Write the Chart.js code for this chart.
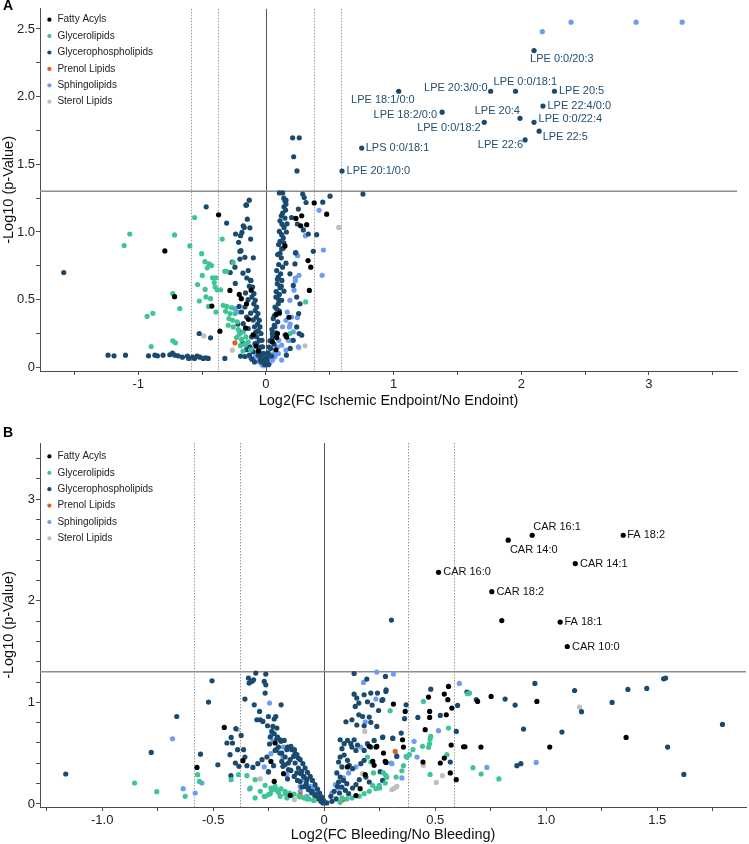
<!DOCTYPE html>
<html><head><meta charset="utf-8">
<script src="https://cdn.jsdelivr.net/npm/chart.js@4.4.1/dist/chart.umd.min.js"></script>
<style>
html,body{margin:0;padding:0;background:#fff;}
#wrap{position:relative;width:749px;height:844px;overflow:hidden;font-family:"Liberation Sans",Arial,Helvetica,sans-serif;}
canvas{position:absolute;left:0;}
#ca{top:0;} #cb{top:430px;}
.tag{position:absolute;left:3px;font-weight:bold;font-size:14px;line-height:14px;color:#000;}
</style></head>
<body><div id="wrap">
<canvas id="ca" width="749" height="410"></canvas>
<canvas id="cb" width="749" height="414"></canvas>
<div class="tag" style="top:-2px">A</div>
<div class="tag" style="top:425px">B</div>
</div>
<script>
// ---------- categories, cut-offs, tick labels ----------
const CATEGORIES = ['Fatty Acyls','Glycerolipids','Glycerophospholipids','Prenol Lipids','Sphingolipids','Sterol Lipids'];
const FC_CUTS = [-0.585, -0.379, 0.379, 0.585];
const P_CUT = 1.301;
const A_X_TICKS = [-1, 0, 1, 2, 3];
const A_Y_TICKS = [0, 0.5, 1, 1.5, 2, 2.5];
const B_X_TICKS = [-1, -0.5, 0, 0.5, 1, 1.5];
const B_Y_TICKS = [0, 1, 2, 3];

// ---------- Panel A data [log2FC, -log10 p] ----------
const A_FA = [[-0.792,0.86],[-0.716,0.522],[-0.371,1.127],[-0.424,0.453],[-0.361,0.267],[-0.282,0.568],[-0.209,0.539],[-0.193,0.507],[-0.152,0.47],[-0.116,0.57],[-0.137,0.355],[-0.16,0.29],[-0.078,0.157],[-0.1,0.24],[-0.06,0.12],[0.476,1.132],[0.378,1.215],[0.28,1.12],[0.235,1.10],[0.319,1.054],[0.272,1.046],[0.33,0.789],[0.351,0.74],[0.34,0.568],[0.149,0.897],[0.105,0.40],[0.08,0.39],[0.09,0.25],[0.155,0.24],[0.18,0.37],[0.084,0.22],[0.162,0.225],[0.078,0.13],[0.05,0.19]];
const A_GL = [[-1.067,0.985],[-1.111,0.90],[-0.716,0.978],[-0.596,0.897],[-0.559,1.107],[-0.931,0.377],[-0.886,0.399],[-0.73,0.544],[-0.675,0.434],[-0.899,0.154],[-0.73,0.196],[-0.709,0.181],[-0.504,0.84],[-0.535,0.612],[-0.478,0.781],[-0.445,0.764],[-0.426,0.752],[-0.46,0.735],[-0.499,0.679],[-0.418,0.662],[-0.392,0.662],[-0.405,0.627],[-0.476,0.576],[-0.398,0.593],[-0.382,0.573],[-0.355,0.573],[-0.522,0.49],[-0.434,0.507],[-0.392,0.409],[-0.47,0.52],[-0.45,0.45],[-0.322,0.71],[-0.308,0.71],[-0.257,0.774],[-0.343,0.948],[-0.335,0.458],[-0.308,0.45],[-0.269,0.441],[-0.316,0.414],[-0.282,0.397],[-0.243,0.397],[-0.261,0.348],[-0.225,0.336],[-0.295,0.311],[-0.256,0.299],[-0.217,0.279],[-0.178,0.262],[-0.157,0.225],[-0.191,0.206],[-0.139,0.188],[-0.165,0.171],[-0.209,0.245],[-0.2,0.16],[-0.18,0.12],[-0.12,0.13],[-0.23,0.22],[-0.29,0.36],[0.311,0.483],[0.188,0.25]];
const A_GP = [[-1.584,0.70],[-1.237,0.09],[-1.19,0.085],[-1.10,0.09],[-0.92,0.085],[-0.87,0.09],[-0.85,0.085],[-0.806,0.09],[-0.753,0.093],[-0.732,0.105],[-0.714,0.09],[-0.688,0.085],[-0.654,0.075],[-0.615,0.083],[-0.605,0.066],[-0.575,0.075],[-0.56,0.066],[-0.539,0.083],[-0.518,0.075],[-0.492,0.066],[-0.471,0.07],[-0.452,0.066],
[-0.468,1.186],[-0.523,0.25],[-0.434,0.218],[-0.308,1.066],[-0.238,0.985],[-0.188,0.997],[-0.170,1.034],[-0.152,1.20],[-0.131,1.235],[-0.157,1.198],[-0.146,1.095],[-0.126,1.031],[-0.214,0.924],[-0.204,0.857],[-0.264,0.777],[-0.243,0.74],[-0.165,0.813],[-0.18,0.696],[-0.099,0.809],[-0.12,0.642],[-0.178,1.046],[-0.199,0.973],[-0.12,0.948],[-0.196,0.862],[-0.204,0.80],[-0.322,0.066],[-0.199,0.083],[-0.165,0.08],
[-0.139,0.715],[-0.118,0.642],[-0.105,0.593],[-0.094,0.544],[-0.084,0.495],[-0.073,0.446],[-0.063,0.397],[-0.052,0.348],[-0.047,0.299],[-0.039,0.25],[-0.031,0.20],[-0.026,0.152],[-0.018,0.103],[-0.010,0.066],[-0.165,0.446],[-0.191,0.409],[-0.152,0.372],[-0.178,0.323],[-0.139,0.287],[-0.112,0.225],[-0.086,0.176],[-0.125,0.152],[-0.10,0.115],[-0.06,0.09],[-0.047,0.054],[-0.073,0.225],
[-0.13,0.6],[-0.11,0.52],[-0.095,0.47],[-0.085,0.42],[-0.075,0.37],[-0.065,0.32],[-0.06,0.27],[-0.05,0.2],[-0.04,0.15],[-0.03,0.1],[-0.02,0.05],[-0.01,0.02],[-0.12,0.4],[-0.1,0.35],[-0.09,0.3],[-0.08,0.26],[-0.07,0.18],[-0.055,0.13],[-0.045,0.08],[-0.035,0.04],[-0.22,0.32],[-0.2,0.26],[-0.18,0.18],[-0.15,0.13],[-0.13,0.09],[-0.11,0.06],[-0.09,0.04],[-0.16,0.55],[-0.14,0.5],[-0.21,0.45],[-0.24,0.62],[-0.28,0.7],[-0.15,0.66],
[0.105,1.289],[0.131,1.289],[0.288,1.28],[0.502,1.265],[0.445,1.22],[0.397,0.98],[0.371,0.857],[0.157,0.77],[0.231,0.845],[0.26,0.25],
[0.149,1.23],[0.157,1.206],[0.141,1.186],[0.154,1.162],[0.131,1.14],[0.12,1.12],[0.149,1.103],[0.11,1.083],[0.125,1.059],[0.141,1.034],[0.105,1.004],[0.123,0.98],[0.136,0.956],[0.11,0.931],[0.099,0.907],[0.123,0.875],[0.11,0.843],[0.092,0.833],[0.12,0.809],[0.084,0.715],[0.115,0.691],[0.097,0.666],[0.125,0.642],[0.089,0.617],[0.11,0.588],[0.141,0.563],[0.105,0.539],[0.078,0.519],[0.123,0.495],[0.097,0.47],[0.071,0.446],[0.105,0.416],[0.078,0.392],[0.057,0.36],[0.092,0.336],[0.065,0.311],[0.047,0.279],[0.078,0.254],[0.052,0.225],[0.031,0.196],[0.063,0.171],[0.037,0.14],[0.018,0.107],[0.044,0.083],[0.01,0.054],
[0.1,0.76],[0.13,0.74],[0.09,0.65],[0.12,0.6],[0.08,0.56],[0.1,0.5],[0.085,0.43],[0.065,0.38],[0.07,0.3],[0.05,0.25],[0.04,0.2],[0.025,0.15],[0.015,0.08],[0.005,0.03],[0.02,0.02],[0.135,0.88],[0.14,0.92],[0.16,1.0],[0.165,1.06],[0.14,1.25],
[0.314,1.218],[0.254,1.169],[0.201,1.107],[0.246,1.059],[0.293,1.015],[0.332,0.985],[0.227,0.764],[0.188,0.691],[0.214,0.605],[0.241,0.519],[0.267,0.47],[0.256,0.397],[0.241,0.299],[0.28,0.238],[0.214,0.20],[0.19,0.14],[0.16,0.09],
[0.209,1.696],[0.261,1.696],[0.217,1.556],[0.243,1.451],[0.157,1.235],[0.30,1.254],[0.76,1.28]];
const A_PR = [[-0.243,0.181]];
const A_SP = [[2.165,2.48],[2.39,2.55],[2.90,2.55],[3.26,2.55],[0.309,0.973],[0.45,0.867],[0.44,0.68],[0.416,1.16],[0.194,0.2],[0.248,0.825],[0.259,0.68],[0.23,0.64],[0.22,0.57],[0.188,0.495],[0.167,0.409],[0.201,0.372],[0.157,0.348],[0.183,0.299],[0.214,0.262],[0.149,0.238],[0.175,0.20],[0.123,0.164],[0.157,0.127],[0.097,0.103],[0.071,0.078],[0.052,0.054],[0.123,0.054],[0.235,0.85],[0.246,0.368],[0.19,0.32],[0.254,0.152],[0.23,0.66],[-0.11,0.13],[-0.086,0.074],[-0.125,0.074],[-0.152,0.152],[-0.243,0.434],[-0.217,0.409],[-0.05,0.04],[-0.07,0.1],[-0.03,0.02],[0.03,0.03],[0.09,0.15],[0.1,0.2],[0.13,0.3],[0.06,0.1]];
const A_ST = [[-0.487,0.232],[-0.264,0.127],[0.259,0.144],[0.306,0.159],[0.57,1.034],[-0.02,0.01]];
// labelled glycerophospholipids (panel A)
const A_labelNames = ['LPE 0:0/20:3','LPE 18:1/0:0','LPE 20:3/0:0','LPE 0:0/18:1','LPE 20:5','LPE 18:2/0:0','LPE 22:4/0:0','LPE 20:4','LPE 0:0/18:2','LPE 0:0/22:4','LPE 22:5','LPE 22:6','LPS 0:0/18:1','LPE 20:1/0:0'];
const A_labelX = [2.10,1.04,1.76,1.955,2.26,1.38,2.17,1.99,1.71,2.10,2.14,2.03,0.75,0.596];
const A_labelY = [2.34,2.04,2.04,2.04,2.04,1.885,1.93,1.84,1.81,1.81,1.745,1.68,1.62,1.45];

// ---------- Panel B data ----------
const B_FA = [[0.80,1.805],[-0.573,0.36],[-0.45,0.753],[-0.366,0.426],[-0.221,0.60],[-0.24,0.419],[-0.183,0.298],[-0.225,0.222],[-0.153,0.085],
[0.312,0.983],[0.203,0.567],[0.237,0.567],[0.267,0.501],[0.225,0.38],[0.105,0.364],[0.143,0.082],[0.162,0.15],[0.185,0.288],[0.275,0.419],[0.365,0.911],[0.47,1.052],[0.475,0.911],[0.475,0.852],[0.455,0.731],[0.541,1.082],[0.56,1.157],[0.557,1.026],[0.55,0.878],[0.575,0.944],[0.691,1.009],[0.752,1.058],[0.958,1.009],[1.36,0.655],[1.016,0.56],[0.706,0.56],[0.628,0.563],[0.634,0.563],[0.595,0.239],[0.568,0.305],[0.572,0.58],[0.523,0.403],[0.541,0.452],[0.445,0.413],[0.357,0.56],[0.353,0.632],[0.279,0.409],[0.234,0.56],[0.219,0.419]];
const B_GL = [[-0.854,0.206],[-0.754,0.121],[-0.626,0.075],[-0.57,0.288],[-0.562,0.222],[-0.386,0.288],[-0.348,0.278],[-0.419,0.239],[-0.311,0.239],[-0.266,0.183],[-0.24,0.157],[-0.216,0.141],[-0.195,0.15],[-0.176,0.124],[-0.156,0.108],[-0.135,0.098],[-0.113,0.075],[-0.09,0.059],[-0.068,0.049],[-0.045,0.035],[-0.311,0.059],[-0.27,0.075],[-0.243,0.101],[-0.288,0.124],[-0.333,0.157],[-0.236,0.134],[-0.206,0.114],[-0.176,0.101],[-0.146,0.082],[-0.108,0.069],[-0.078,0.049],[-0.048,0.035],[-0.168,0.059],[-0.198,0.075],[-0.251,0.091],[-0.221,0.173],
[0.297,0.917],[0.195,0.462],[0.21,0.413],[0.218,0.183],[0.233,0.15],[0.248,0.183],[0.278,0.278],[0.222,0.305],[0.203,0.124],[0.18,0.101],[0.158,0.075],[0.08,0.059],[0.072,0.016],[0.102,0.049],[0.125,0.059],[0.447,1.009],[0.56,0.747],[0.655,1.091],[0.646,1.085],[0.787,0.246],[0.707,0.295],[0.67,0.357],[0.553,0.485],[0.477,0.291],[0.48,0.665],[0.477,0.639],[0.47,0.557],[0.475,0.593],[0.443,0.567],[0.40,0.534],[0.384,0.485],[0.373,0.459],[0.282,0.262],[0.267,0.305],[0.275,0.206],[0.25,0.157],[0.324,0.265],[0.357,0.377],[0.35,0.327]];
const B_GP = [[-1.164,0.295],[-0.779,0.507],[-0.664,0.861],[-0.557,0.49],[-0.521,1.003],[-0.505,1.212],[-0.479,0.386],[-0.419,0.655],[-0.438,0.60],[-0.413,0.60],[-0.424,0.485],[-0.42,0.278],[-0.39,0.534],[-0.40,0.403],[-0.374,0.675],[-0.363,0.534],[-0.357,0.462],[-0.384,0.37],[-0.348,0.377],[-0.398,0.741],
[-0.341,1.239],[-0.326,1.206],[-0.318,1.222],[-0.338,1.19],[-0.308,1.288],[-0.27,1.206],[-0.263,1.173],[-0.266,1.091],[-0.263,1.278],[-0.357,1.032],[-0.315,0.976],[-0.194,0.976],[-0.291,0.911],[-0.276,0.812],[-0.288,0.829],[-0.303,0.829],[-0.251,0.861],[-0.225,0.836],[-0.218,0.861],[-0.255,0.77],[-0.231,0.763],[-0.213,0.747],
[-0.236,0.714],[-0.225,0.691],[-0.243,0.659],[-0.213,0.642],[-0.246,0.59],[-0.195,0.616],[-0.18,0.625],[-0.206,0.56],[-0.221,0.527],[-0.258,0.462],[-0.28,0.436],[-0.299,0.396],[-0.321,0.36],[-0.251,0.318],[-0.228,0.377],[-0.191,0.501],[-0.176,0.462],[-0.165,0.56],[-0.146,0.534],[-0.131,0.495],[-0.116,0.452],[-0.161,0.403],[-0.186,0.37],[-0.15,0.33],[-0.135,0.271],[-0.165,0.246],[-0.12,0.232],[-0.104,0.298],[-0.09,0.265],[-0.081,0.20],[-0.10,0.167],[-0.071,0.157],[-0.055,0.124],[-0.041,0.091],[-0.026,0.059],[-0.015,0.026],[-0.006,0.01],
[-0.21,0.659],[-0.198,0.632],[-0.15,0.567],[-0.134,0.534],[-0.123,0.485],[-0.108,0.436],[-0.096,0.396],[-0.086,0.354],[-0.075,0.311],[-0.063,0.271],[-0.053,0.232],[-0.041,0.19],[-0.03,0.147],[-0.021,0.108],[-0.012,0.069],[-0.003,0.035],[-0.138,0.468],[-0.153,0.436],[-0.131,0.403],[-0.116,0.354],[-0.101,0.321],[-0.123,0.305],[-0.093,0.271],[-0.078,0.239],[-0.108,0.222],[-0.086,0.173],[-0.071,0.141],[-0.056,0.108],[-0.041,0.075],[-0.026,0.049],[-0.161,0.337],[-0.176,0.386],[-0.191,0.419],[-0.2,0.501],[-0.216,0.534],[-0.168,0.534],
[0.303,1.81],[0.135,1.284],[0.276,1.255],[0.192,1.229],[0.135,1.081],[0.147,1.042],[0.156,0.993],[0.14,0.96],[0.18,1.075],[0.195,1.006],[0.21,1.091],[0.216,0.973],[0.24,1.091],[0.26,1.019],[0.278,1.107],[0.098,0.809],[0.125,0.829],[0.156,0.878],[0.173,0.861],[0.203,0.855],[0.147,0.777],[0.18,0.77],[0.21,0.803],[0.237,0.763],[0.264,0.659],[0.309,0.649],
[0.072,0.632],[0.09,0.593],[0.08,0.544],[0.105,0.625],[0.12,0.593],[0.135,0.632],[0.125,0.56],[0.143,0.527],[0.15,0.58],[0.18,0.527],[0.195,0.593],[0.21,0.56],[0.225,0.625],[0.072,0.462],[0.09,0.482],[0.105,0.429],[0.065,0.413],[0.08,0.364],[0.113,0.38],[0.128,0.347],[0.165,0.396],[0.18,0.429],[0.057,0.305],[0.072,0.265],[0.087,0.232],[0.102,0.20],[0.065,0.216],[0.08,0.167],[0.095,0.134],[0.11,0.101],[0.128,0.157],[0.143,0.19],[0.158,0.239],[0.188,0.265],[0.203,0.216],[0.263,0.232],[0.03,0.075],[0.045,0.124],[0.06,0.173],[0.069,0.108],[0.054,0.049],[0.035,0.026],[0.012,0.01],[0.327,0.468],[0.279,1.124],[0.264,1.026],[0.245,0.92],[0.369,0.976],[0.362,0.839],[0.422,0.852],[0.48,1.13],[0.523,0.871],[0.601,0.97],[0.595,0.714],[0.643,1.101],[0.685,1.026],[0.815,1.032],[0.86,0.973],[0.949,1.186],[0.898,0.737],[1.071,0.708],[1.128,1.117],[1.159,0.908],[1.297,0.999],[1.368,1.127],[1.453,1.137],[1.529,1.232],[1.538,1.239],[1.794,0.783],[1.547,0.56],[1.62,0.291],[0.868,0.377],[0.886,0.396],[0.568,0.413],[0.347,0.698],[0.309,0.645],[0.263,0.655],[0.252,0.318]];
const B_PR = [[0.32,0.517],[0.084,0.042],[-0.108,0.091]];
const B_SP = [[-0.683,0.642],[-0.635,0.15],[-0.581,0.108],[-0.551,0.206],[-0.246,0.993],[-0.231,0.622],[-0.24,0.495],[-0.27,0.364],[-0.336,0.147],[-0.266,0.075],[-0.108,0.173],[-0.086,0.239],[-0.063,0.173],[-0.041,0.124],[-0.239,0.671],[-0.183,0.56],[-0.186,0.462],[-0.063,0.134],[-0.048,0.157],[-0.078,0.075],[-0.108,0.124],[-0.251,0.311],[-0.168,0.288],[-0.033,0.101],
[0.237,1.298],[0.312,1.278],[0.177,1.196],[0.233,1.032],[0.185,0.809],[0.165,0.56],[0.143,0.364],[0.065,0.157],[0.05,0.19],[0.087,0.256],[0.11,0.305],[0.035,0.108],[0.305,0.396],[0.609,1.186],[0.515,0.721],[0.955,0.409],[0.733,0.36],[0.418,0.462],[0.405,0.616],[0.369,0.468],[0.35,0.256],[0.327,0.475],[0.302,0.403]];
const B_ST = [[-0.389,0.731],[-0.288,0.246],[-0.134,0.042],[0.183,0.714],[0.173,0.298],[0.327,0.173],[0.305,0.141],[1.15,0.954],[0.533,0.278],[0.505,0.212],[0.447,0.38],[0.315,0.153]];
// labelled fatty acyls (panel B)
const B_labelNames = ['CAR 16:1','FA 18:2','CAR 14:0','CAR 14:1','CAR 16:0','CAR 18:2','FA 18:1','CAR 10:0'];
const B_labelX = [0.937,1.347,0.829,1.131,0.515,0.755,1.063,1.095];
const B_labelY = [2.645,2.645,2.596,2.366,2.28,2.09,1.79,1.55];

// ---------- styles / layout (not data) ----------
const COLORS = ['#000000','#3fc495','#1a4a6e','#e2601a','#6d9cf4','#bfbfbf'];
const A_LABEL_PLACE = [[-4,8,'left'],[16,9,'right'],[-3,-3,'right'],[-22,-9,'left'],[4.5,0,'left'],[-5,3,'right'],[4.5,0,'left'],[0,-7,'right'],[-3.5,6,'right'],[4.5,-3.5,'left'],[3.5,6,'left'],[-2,5.5,'right'],[4,0,'left'],[4.5,0,'left']];
const B_LABEL_PLACE = [[1,-8.6,'left'],[4,0,'left'],[1.7,9.4,'left'],[4.7,0,'left'],[4.7,0,'left'],[4.6,0,'left'],[4.3,0,'left'],[4.7,0,'left']];
const FONT = '"Liberation Sans", Arial, Helvetica, sans-serif';

Chart.defaults.font.family = FONT;
Chart.defaults.color = '#222';

const zip = (xs, ys) => xs.map((v, i) => [v, ys[i]]);

function makeDatasets(series) {
  return CATEGORIES.map((name, i) => ({
    label: name,
    data: series[i].map(p => ({x: p[0], y: p[1]})),
    backgroundColor: COLORS[i], borderColor: COLORS[i], borderWidth: 0,
    pointRadius: 2.6, pointHoverRadius: 2.6, pointStyle: 'circle'
  }));
}

function tickText(v, list, fmt) {
  for (const t of list) if (Math.abs(v - t) < 1e-6) return fmt(t);
  return '';
}

const refLines = {
  id: 'refLines',
  beforeDatasetsDraw(chart, args, o) {
    const {ctx, chartArea: ca, scales: {x, y}} = chart;
    ctx.save();
    ctx.lineWidth = 1;
    ctx.strokeStyle = '#9a9a9a';
    ctx.setLineDash([1.5, 1.5]);
    o.dotted.forEach(v => {
      const px = Math.round(x.getPixelForValue(v)) + 0.5;
      ctx.beginPath(); ctx.moveTo(px, ca.top); ctx.lineTo(px, ca.bottom); ctx.stroke();
    });
    ctx.setLineDash([]);
    ctx.strokeStyle = '#555';
    const zx = Math.round(x.getPixelForValue(0)) + 0.5;
    ctx.beginPath(); ctx.moveTo(zx, ca.top); ctx.lineTo(zx, ca.bottom); ctx.stroke();
    ctx.strokeStyle = '#8e8e8e'; ctx.lineWidth = 1.6;
    const ty = y.getPixelForValue(o.threshold);
    ctx.beginPath(); ctx.moveTo(ca.left, ty); ctx.lineTo(ca.right, ty); ctx.stroke();
    ctx.restore();
  },
  afterDatasetsDraw(chart, args, o) {
    const {ctx, scales: {x, y}} = chart;
    ctx.save();
    ctx.font = '11px ' + FONT;
    ctx.fillStyle = o.labelColor;
    ctx.textBaseline = 'middle';
    o.names.forEach((n, i) => {
      const [dx, dy, al] = o.place[i];
      ctx.textAlign = al;
      ctx.fillText(n, x.getPixelForValue(o.xs[i]) + dx, y.getPixelForValue(o.ys[i]) + dy);
    });
    ctx.restore();
  }
};

function makeChart(id, c) {
  const axisCol = '#4d4d4d';
  return new Chart(document.getElementById(id), {
    type: 'scatter',
    data: {datasets: makeDatasets(c.series)},
    plugins: [refLines],
    options: {
      responsive: false, animation: false, events: [],
      layout: {autoPadding: false, padding: {top: c.padTop, right: c.padRight, left: 0, bottom: 0}},
      scales: {
        x: {
          type: 'linear', min: c.xmin, max: c.xmax,
          afterFit: s => { s.height = c.xh; },
          border: {display: true, color: axisCol, width: 1},
          grid: {display: true, drawOnChartArea: false, drawTicks: true, tickLength: 4, color: axisCol},
          ticks: {stepSize: c.xstep, includeBounds: false, autoSkip: false, maxRotation: 0, padding: 2, color: '#222', font: {size: 13},
                  callback: v => tickText(v, c.xticks, c.xfmt)},
          title: {display: true, text: c.xtitle, color: '#111', font: {size: 14.5}, padding: 0}
        },
        y: {
          type: 'linear', min: c.ymin, max: c.ymax,
          afterFit: s => { s.width = 40; },
          border: {display: true, color: axisCol, width: 1},
          grid: {display: true, drawOnChartArea: false, drawTicks: true, tickLength: 4, color: axisCol},
          ticks: {stepSize: c.ystep, includeBounds: false, autoSkip: false, padding: 1, color: '#222', font: {size: 13},
                  callback: v => tickText(v, c.yticks, c.yfmt)},
          title: {display: true, text: '-Log10 (p-Value)', color: '#111', font: {size: 14.5}, padding: 0}
        }
      },
      plugins: {
        tooltip: {enabled: false},
        legend: {
          display: true, position: 'chartArea', align: 'start',
          title: {display: true, text: ' ', font: {size: 1}, padding: {top: 0, bottom: c.legendGap}},
          labels: {usePointStyle: true, boxWidth: 6, boxHeight: 3, padding: 6.4, color: '#222', font: {size: 10}}
        },
        refLines: {dotted: FC_CUTS, threshold: P_CUT, names: c.names, xs: c.lx, ys: c.ly, place: c.place, labelColor: c.labelColor}
      }
    }
  });
}

makeChart('ca', {
  series: [A_FA, A_GL, A_GP.concat(zip(A_labelX, A_labelY)), A_PR, A_SP, A_ST],
  xmin: -1.77, xmax: 3.69, xstep: 0.5, xticks: A_X_TICKS, xfmt: t => String(t),
  ymin: -0.027, ymax: 2.649, ystep: 0.25, yticks: A_Y_TICKS, yfmt: t => t === 0 ? '0' : t.toFixed(1),
  xh: 39, padTop: 7, padRight: 12, legendGap: 7.1,
  xtitle: 'Log2(FC Ischemic Endpoint/No Endoint)',
  names: A_labelNames, lx: A_labelX, ly: A_labelY, place: A_LABEL_PLACE, labelColor: '#24506f'
});

makeChart('cb', {
  series: [B_FA.concat(zip(B_labelX, B_labelY)), B_GL, B_GP, B_PR, B_SP, B_ST],
  xmin: -1.28, xmax: 1.90, xstep: 0.25, xticks: B_X_TICKS, xfmt: t => t === 0 ? '0' : t.toFixed(1),
  ymin: -0.03, ymax: 3.553, ystep: 0.2, yticks: B_Y_TICKS, yfmt: t => String(t),
  xh: 37, padTop: 13, padRight: 3, legendGap: 13.8,
  xtitle: 'Log2(FC Bleeding/No Bleeding)',
  names: B_labelNames, lx: B_labelX, ly: B_labelY, place: B_LABEL_PLACE, labelColor: '#111'
});
</script>
</body></html>
